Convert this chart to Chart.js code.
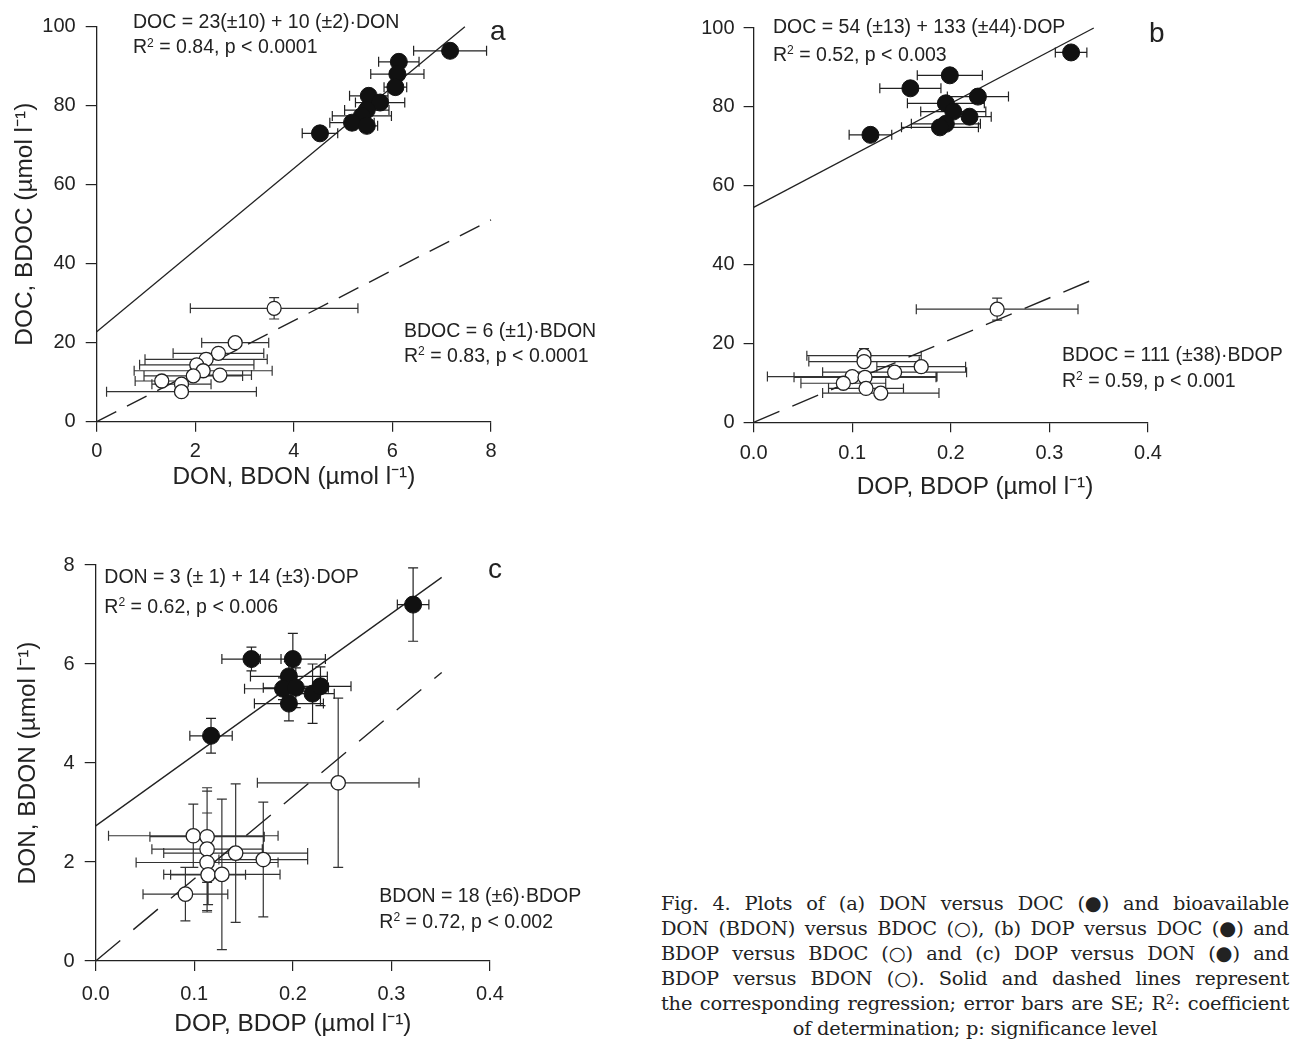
<!DOCTYPE html>
<html>
<head>
<meta charset="utf-8">
<script src="https://cdn.jsdelivr.net/npm/chart.js@4.4.1/dist/chart.umd.min.js"></script>
<style>
  html, body { margin: 0; padding: 0; background: #fff; }
  body { width: 1297px; height: 1040px; position: relative; overflow: hidden; font-family: 'Liberation Sans', Arial, sans-serif; color: #222; }
  canvas { position: absolute; }
  .t { position: absolute; font-size: 19.5px; line-height: 20px; white-space: nowrap; color: #222; }
  .lab { position: absolute; font-size: 28px; line-height: 28px; color: #222; }
  .t sup { font-size: 0.62em; position: relative; top: -0.55em; vertical-align: 0; line-height: 0; }
  .xt { position: absolute; font-size: 24.4px; line-height: 28px; white-space: nowrap; color: #222; transform: translateX(-50%); }
  .cap { position: absolute; left: 661px; top: 891px; width: 628px; font-family: 'DejaVu Serif', 'Liberation Serif', serif; font-size: 19.4px; line-height: 25px; color: #222; letter-spacing: -0.2px; }
  .cap div { height: 25px; overflow: visible; text-align: justify; text-align-last: justify; white-space: nowrap; }
  .cap div.last { text-align: center; text-align-last: center; }
  .cap sup { font-size: 0.65em; position: relative; top: -0.5em; vertical-align: 0; line-height: 0; }
  .grp { display: inline-block; line-height: 0; white-space: nowrap; }
  .sym { font-family: 'DejaVu Sans', sans-serif; font-size: 1em; letter-spacing: 0; line-height: 0; }
</style>
</head>
<body>
<canvas id="ca" width="530" height="500" style="left:0px;top:0px"></canvas>
<canvas id="cb" width="560" height="500" style="left:640px;top:0px"></canvas>
<canvas id="cc" width="530" height="510" style="left:0px;top:530px"></canvas>

<div class="t" style="left:133px;top:10.5px">DOC = 23(±10) + 10 (±2)·DON</div>
<div class="t" style="left:133px;top:36.3px">R<sup>2</sup> = 0.84, p &lt; 0.0001</div>
<div class="t" style="left:404px;top:319.7px">BDOC = 6 (±1)·BDON</div>
<div class="t" style="left:404px;top:344.7px">R<sup>2</sup> = 0.83, p &lt; 0.0001</div>
<div class="lab" style="left:490px;top:17px">a</div>

<div class="t" style="left:773px;top:16px">DOC = 54 (±13) + 133 (±44)·DOP</div>
<div class="t" style="left:773px;top:44px">R<sup>2</sup> = 0.52, p &lt; 0.003</div>
<div class="t" style="left:1062px;top:343.7px">BDOC = 111 (±38)·BDOP</div>
<div class="t" style="left:1062px;top:369.7px">R<sup>2</sup> = 0.59, p &lt; 0.001</div>
<div class="lab" style="left:1149px;top:19px">b</div>
<div class="xt" style="left:975px;top:472px">DOP, BDOP (µmol l⁻¹)</div>

<div class="t" style="left:104.3px;top:566.3px">DON = 3 (± 1) + 14 (±3)·DOP</div>
<div class="t" style="left:104.3px;top:595.7px">R<sup>2</sup> = 0.62, p &lt; 0.006</div>
<div class="t" style="left:379.3px;top:884.7px">BDON = 18 (±6)·BDOP</div>
<div class="t" style="left:379.3px;top:910.7px">R<sup>2</sup> = 0.72, p &lt; 0.002</div>
<div class="lab" style="left:488px;top:555px">c</div>

<div class="cap">
  <div>Fig. 4. Plots of (a) DON versus DOC <span class="grp">(<span class="sym">●</span>)</span> and bioavailable</div>
  <div>DON (BDON) versus BDOC <span class="grp">(<span class="sym">○</span>),</span> (b) DOP versus DOC <span class="grp">(<span class="sym">●</span>)</span> and</div>
  <div>BDOP versus BDOC <span class="grp">(<span class="sym">○</span>)</span> and (c) DOP versus DON <span class="grp">(<span class="sym">●</span>)</span> and</div>
  <div>BDOP versus BDON <span class="grp">(<span class="sym">○</span>).</span> Solid and dashed lines represent</div>
  <div>the corresponding regression; error bars are SE; R<sup>2</sup>: coefficient</div>
  <div class="last">of determination; p: significance level</div>
</div>

<script>
// ---------- Panel a: DON vs DOC (filled), BDON vs BDOC (open) ----------
const aDON    = [4.53, 7.17, 6.13, 6.10, 6.06, 5.52, 5.75, 5.48, 5.38, 5.18, 5.48];
const aDOC    = [73.0, 93.9, 91.1, 88.0, 84.7, 82.5, 80.8, 78.9, 77.4, 75.7, 74.9];
const aDONse  = [0.36, 0.74, 0.41, 0.54, 0.23, 0.39, 0.50, 0.45, 0.60, 0.45, 0.22];
const aDOCse  = [1.0, 1.0, 1.2, 1.0, 1.0, 1.0, 1.0, 1.0, 1.0, 1.0, 1.0];
const aBDON   = [3.60, 2.81, 2.47, 2.22, 2.03, 2.16, 2.50, 1.96, 1.32, 1.72, 1.72];
const aBDOC   = [28.7, 20.0, 17.3, 15.8, 14.4, 12.9, 11.8, 11.6, 10.3, 9.5, 7.6];
const aBDONse = [1.70, 0.68, 0.92, 1.24, 1.16, 1.40, 0.64, 1.00, 0.54, 0.60, 1.52];
const aBDOCse = [2.7, 0.6, 1.0, 0.6, 0.6, 0.6, 0.6, 0.6, 0.6, 0.6, 0.6];
const aFitSolidX  = [0, 7.47], aFitSolidY  = [22.8, 100];
const aFitDashedX = [0, 8.0],  aFitDashedY = [0, 51.1];
const aXTicks = [0, 2, 4, 6, 8];
const aYTicks = [0, 20, 40, 60, 80, 100];

// ---------- Panel b: DOP vs DOC (filled), BDOP vs BDOC (open) ----------
const bDOP    = [0.1185, 0.322, 0.199, 0.159, 0.2275, 0.195, 0.2025, 0.219, 0.195, 0.189];
const bDOC    = [72.9, 93.8, 88.0, 84.7, 82.6, 80.9, 78.8, 77.5, 75.7, 74.8];
const bDOPse  = [0.0216, 0.016, 0.033, 0.031, 0.031, 0.039, 0.033, 0.022, 0.035, 0.039];
const bDOCse  = [1.0, 1.0, 1.0, 1.0, 1.0, 1.0, 1.0, 1.0, 1.0, 1.0];
const bBDOP   = [0.247, 0.112, 0.112, 0.170, 0.143, 0.100, 0.113, 0.091, 0.114, 0.129];
const bBDOC   = [28.7, 16.9, 15.4, 14.1, 12.7, 11.6, 11.4, 9.9, 8.6, 7.4];
const bBDOPse = [0.082, 0.058, 0.056, 0.045, 0.073, 0.086, 0.072, 0.043, 0.038, 0.059];
const bBDOCse = [2.8, 1.8, 0.8, 0.8, 0.8, 0.8, 0.8, 0.8, 0.8, 0.8];
const bFitSolidX  = [0, 0.345], bFitSolidY  = [54.5, 100];
const bFitDashedX = [0, 0.351], bFitDashedY = [0, 36.9];
const bXTicks = [0, 0.1, 0.2, 0.3, 0.4];
const bYTicks = [0, 20, 40, 60, 80, 100];

// ---------- Panel c: DOP vs DON (filled), BDOP vs BDON (open) ----------
const cDOP    = [0.117, 0.322, 0.158, 0.200, 0.196, 0.190, 0.203, 0.220, 0.228, 0.196];
const cDON    = [4.55, 7.20, 6.10, 6.10, 5.75, 5.50, 5.52, 5.40, 5.55, 5.20];
const cDOPse  = [0.0215, 0.016, 0.030, 0.033, 0.039, 0.039, 0.033, 0.022, 0.031, 0.035];
const cDONse  = [0.35, 0.74, 0.24, 0.52, 0.30, 0.22, 0.40, 0.60, 0.39, 0.35];
const cBDOP   = [0.246, 0.099, 0.113, 0.113, 0.142, 0.170, 0.113, 0.114, 0.128, 0.091];
const cBDON   = [3.60, 2.53, 2.51, 2.26, 2.18, 2.05, 1.99, 1.74, 1.75, 1.35];
const cBDOPse = [0.082, 0.086, 0.058, 0.056, 0.073, 0.045, 0.072, 0.038, 0.059, 0.043];
const cBDONse = [1.71, 0.64, 0.92, 1.24, 1.40, 1.16, 1.00, 0.60, 1.52, 0.54];
const cFitSolidX  = [0, 0.351], cFitSolidY  = [2.73, 7.75];
const cFitDashedX = [0, 0.351], cFitDashedY = [0, 5.83];
const cXTicks = [0, 0.1, 0.2, 0.3, 0.4];
const cYTicks = [0, 2, 4, 6, 8];

// ---------- helpers ----------
const INK = '#222';
Chart.defaults.font.family = "'Liberation Sans', Arial, Helvetica, sans-serif";
Chart.defaults.color = INK;

const pts = (xs, ys) => xs.map((v, i) => ({x: v, y: ys[i]}));

const errorBars = {
  id: 'errorBars',
  beforeDatasetsDraw(chart) {
    const {ctx} = chart;
    const xs = chart.scales.x, ys = chart.scales.y;
    const cap = 5;
    chart.data.datasets.forEach(ds => {
      if (!ds.errX) return;
      ctx.save();
      ctx.strokeStyle = ds.errColor || INK;
      ctx.lineWidth = 1.2;
      ctx.beginPath();
      ds.data.forEach((p, j) => {
        const px = xs.getPixelForValue(p.x), py = ys.getPixelForValue(p.y);
        const x1 = xs.getPixelForValue(p.x - ds.errX[j]), x2 = xs.getPixelForValue(p.x + ds.errX[j]);
        const y1 = ys.getPixelForValue(p.y - ds.errY[j]), y2 = ys.getPixelForValue(p.y + ds.errY[j]);
        ctx.moveTo(x1, py); ctx.lineTo(x2, py);
        ctx.moveTo(x1, py - cap); ctx.lineTo(x1, py + cap);
        ctx.moveTo(x2, py - cap); ctx.lineTo(x2, py + cap);
        ctx.moveTo(px, y1); ctx.lineTo(px, y2);
        ctx.moveTo(px - cap, y1); ctx.lineTo(px + cap, y1);
        ctx.moveTo(px - cap, y2); ctx.lineTo(px + cap, y2);
      });
      ctx.stroke();
      ctx.restore();
    });
  }
};

function axis(opts) {
  return {
    type: 'linear',
    min: opts.min, max: opts.max,
    afterBuildTicks: s => { s.ticks = opts.ticks.map(v => ({value: v})); },
    afterFit: s => { if (opts.width != null) s.width = opts.width; if (opts.height != null) s.height = opts.height; },
    grid: { display: true, drawOnChartArea: false, drawTicks: true, tickLength: opts.tickLength || 10, color: INK, lineWidth: 1.2 },
    border: { display: true, color: INK, width: 1.3 },
    ticks: {
      font: { size: 20 }, color: INK, padding: opts.pad,
      callback: v => opts.dec ? Number(v).toFixed(opts.dec) : String(v)
    },
    title: opts.title ? { display: true, text: opts.title, font: { size: 24.4 }, color: INK, padding: opts.titlePad } : { display: false }
  };
}

function makeChart(id, cfg) {
  const datasets = [
    { type: 'line', data: pts(cfg.fsx, cfg.fsy), borderColor: INK, borderWidth: 1.3, pointRadius: 0, fill: false, order: 5, clip: false },
    { type: 'line', data: pts(cfg.fdx, cfg.fdy), borderColor: INK, borderWidth: 1.4, borderDash: cfg.dash, pointRadius: 0, fill: false, order: 5, clip: false },
    { type: 'scatter', data: pts(cfg.ox, cfg.oy), errX: cfg.oxe, errY: cfg.oye, errColor: '#333',
      pointRadius: cfg.ro, pointBackgroundColor: '#fff', pointBorderColor: INK, pointBorderWidth: 1.3, order: 2, clip: false },
    { type: 'scatter', data: pts(cfg.fx, cfg.fy), errX: cfg.fxe, errY: cfg.fye, errColor: INK,
      pointRadius: cfg.rf, pointBackgroundColor: '#111', pointBorderColor: '#111', pointBorderWidth: 1, order: 1, clip: false }
  ];
  return new Chart(document.getElementById(id), {
    data: { datasets },
    options: {
      responsive: false, animation: false, devicePixelRatio: 1, events: [],
      layout: { padding: cfg.padding },
      plugins: { legend: { display: false }, tooltip: { enabled: false } },
      scales: { x: cfg.x, y: cfg.y }
    },
    plugins: [errorBars]
  });
}

makeChart('ca', {
  fx: aDON, fy: aDOC, fxe: aDONse, fye: aDOCse,
  ox: aBDON, oy: aBDOC, oxe: aBDONse, oye: aBDOCse,
  fsx: aFitSolidX, fsy: aFitSolidY, fdx: aFitDashedX, fdy: aFitDashedY,
  dash: [22, 12], rf: 8.5, ro: 7,
  padding: { left: 0, top: 26.7, right: 39, bottom: 0 },
  x: axis({ min: 0, max: 8, ticks: aXTicks, height: 78.3, pad: 8, title: 'DON, BDON (µmol l⁻¹)', titlePad: { top: 0, bottom: 7.6 } }),
  y: axis({ min: 0, max: 100, ticks: aYTicks, width: 96.7, pad: 10, tickLength: 11, title: 'DOC, BDOC (µmol l⁻¹)', titlePad: { top: 10.6, bottom: 0 } })
});

makeChart('cb', {
  fx: bDOP, fy: bDOC, fxe: bDOPse, fye: bDOCse,
  ox: bBDOP, oy: bBDOC, oxe: bBDOPse, oye: bBDOCse,
  fsx: bFitSolidX, fsy: bFitSolidY, fdx: bFitDashedX, fdy: bFitDashedY,
  dash: [28, 14], rf: 8.5, ro: 7,
  padding: { left: 0, top: 28, right: 52, bottom: 0 },
  x: axis({ min: 0, max: 0.4, ticks: bXTicks, height: 77.7, pad: 9, dec: 1 }),
  y: axis({ min: 0, max: 100, ticks: bYTicks, width: 113.6, pad: 9 })
});

makeChart('cc', {
  fx: cDOP, fy: cDON, fxe: cDOPse, fye: cDONse,
  ox: cBDOP, oy: cBDON, oxe: cBDOPse, oye: cBDONse,
  fsx: cFitSolidX, fsy: cFitSolidY, fdx: cFitDashedX, fdy: cFitDashedY,
  dash: [32, 17], rf: 8.5, ro: 7.2,
  padding: { left: 0, top: 35, right: 40, bottom: 0 },
  x: axis({ min: 0, max: 0.4, ticks: cXTicks, height: 79, pad: 11, dec: 1, title: 'DOP, BDOP (µmol l⁻¹)', titlePad: { top: 0, bottom: 0.6 } }),
  y: axis({ min: 0, max: 8, ticks: cYTicks, width: 95.7, pad: 10, tickLength: 11, title: 'DON, BDON (µmol l⁻¹)', titlePad: { top: 13.6, bottom: 0 } })
});
</script>
</body>
</html>
